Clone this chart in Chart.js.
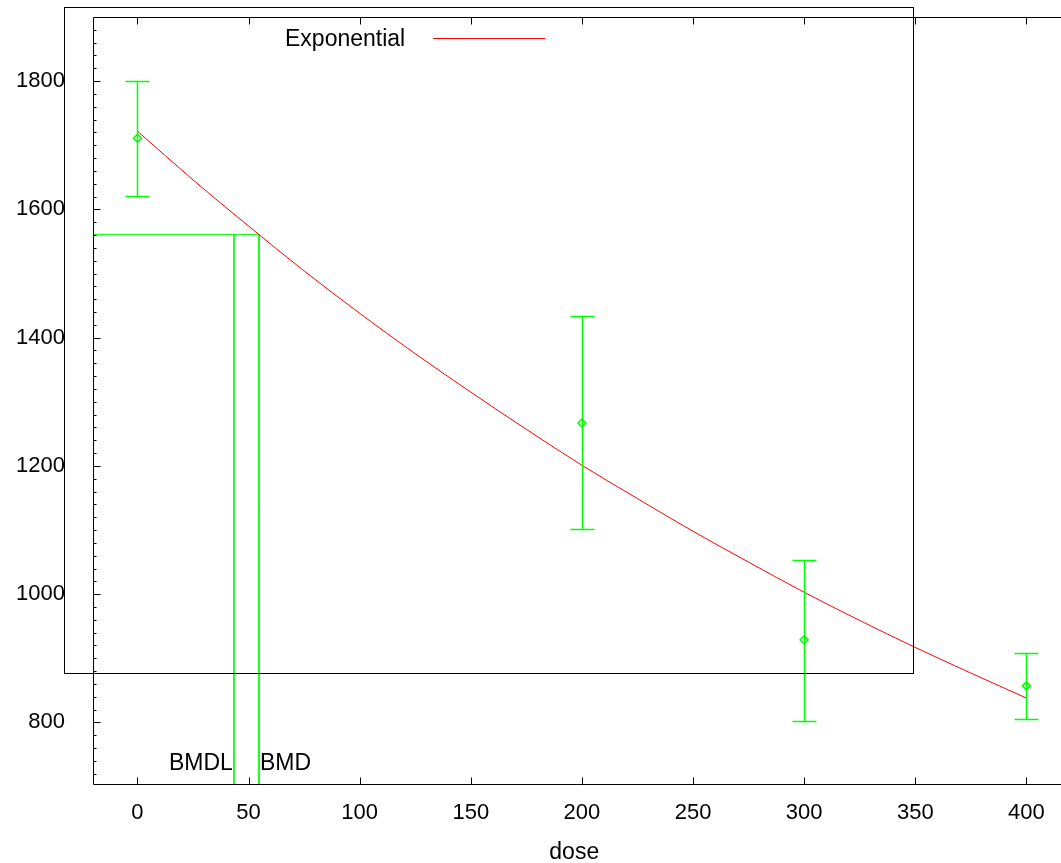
<!DOCTYPE html>
<html>
<head>
<meta charset="utf-8">
<script src="https://cdn.jsdelivr.net/npm/chart.js@4.4.0/dist/chart.umd.min.js"></script>
<style>
  html, body { margin: 0; padding: 0; background: #fff; overflow: hidden; }
  canvas { display: block; }
</style>
</head>
<body>
<canvas id="bmdChart" width="1061" height="863"></canvas>
<script>
// observed data: dose groups, means and error bar ends
const doses = [0, 200, 300, 400];
const means = [1711, 1267, 929, 857];
const lowerBars = [1621, 1102, 803, 806];
const upperBars = [1800, 1434, 1053, 909];

// fitted exponential model
const curveDoses = [0, 25, 50, 75, 100, 125, 150, 175, 200, 225, 250, 275, 300, 325, 350, 375, 400];
const curveValues = [1722, 1646, 1574, 1504, 1438, 1375, 1315, 1257, 1201, 1149, 1098, 1050, 1003, 959, 917, 877, 838];

// benchmark dose lines
const bmrLevel = 1561;
const bmdl = 43.4;
const bmd = 54.7;

const xTicks = [0, 50, 100, 150, 200, 250, 300, 350, 400];
const yTicks = [800, 1000, 1200, 1400, 1600, 1800];

// stray frame the original plot draws (in data units)
const frameX = [-33.05, 349.2];
const frameY = [877, 1916];

// chart area ends ~5px short of the canvas edge, so x max is trimmed to keep the scale
const X_MIN = -20, X_MAX = 413.1, Y_MIN = 704, Y_MAX = 1900;
const FONT = "Liberation Sans, Arial, sans-serif";
const GREEN = "#00ff00";

const axesPlugin = {
    id: "gnuAxes",
    afterDatasetsDraw(chart) {
        const ctx = chart.ctx;
        const xs = chart.scales.x, ys = chart.scales.y;
        const area = chart.chartArea;

        // error bars
        ctx.save();
        ctx.strokeStyle = GREEN;
        ctx.lineWidth = 1.5;
        doses.forEach((d, i) => {
            const px = Math.round(xs.getPixelForValue(d)) + 0.5;
            const top = Math.round(ys.getPixelForValue(upperBars[i])) + 0.5;
            const bot = Math.round(ys.getPixelForValue(lowerBars[i])) + 0.5;
            ctx.beginPath();
            ctx.moveTo(px, top); ctx.lineTo(px, bot);
            ctx.moveTo(px - 12, top); ctx.lineTo(px + 12, top);
            ctx.moveTo(px - 12, bot); ctx.lineTo(px + 12, bot);
            ctx.stroke();
        });
        ctx.restore();

        ctx.save();
        ctx.strokeStyle = "#000";
        ctx.lineWidth = 1;
        const L = Math.round(area.left) + 0.5;
        const T = Math.round(area.top) + 0.5;
        const B = Math.round(area.bottom) + 0.5;
        const R = chart.width;
        ctx.beginPath();
        ctx.moveTo(L, T); ctx.lineTo(L, B);
        ctx.moveTo(L, T); ctx.lineTo(R, T);
        ctx.moveTo(L, B); ctx.lineTo(R, B);
        // x ticks, top and bottom, pointing inward
        xTicks.forEach(v => {
            const px = Math.round(xs.getPixelForValue(v)) + 0.5;
            ctx.moveTo(px, T); ctx.lineTo(px, T + 7);
            ctx.moveTo(px, B); ctx.lineTo(px, B - 7);
        });
        // y ticks, majors every 200, minors every 20
        for (let v = 720; v < Y_MAX; v += 20) {
            const py = Math.round(ys.getPixelForValue(v)) + 0.5;
            const len = (v % 200 === 0) ? 7 : 3;
            ctx.moveTo(L, py); ctx.lineTo(L + len, py);
        }
        ctx.stroke();

        // stray frame box
        const fx0 = Math.round(xs.getPixelForValue(frameX[0])) + 0.5;
        const fx1 = Math.round(xs.getPixelForValue(frameX[1])) + 0.5;
        const fy0 = Math.round(ys.getPixelForValue(frameY[1])) + 0.5;
        const fy1 = Math.round(ys.getPixelForValue(frameY[0])) + 0.5;
        ctx.strokeRect(fx0, fy0, fx1 - fx0, fy1 - fy0);

        // legend
        ctx.fillStyle = "#000";
        ctx.font = "23px " + FONT;
        ctx.textAlign = "left";
        ctx.textBaseline = "middle";
        ctx.fillText(chart.data.datasets[0].label, 285, 40);
        ctx.strokeStyle = "#ff0000";
        ctx.beginPath();
        ctx.moveTo(433, 38.5); ctx.lineTo(545, 38.5);
        ctx.stroke();

        // BMDL / BMD labels
        ctx.fillStyle = "#000";
        const labelY = ys.getPixelForValue(736);
        ctx.textAlign = "right";
        ctx.fillText("BMDL", xs.getPixelForValue(bmdl) - 1, labelY);
        ctx.textAlign = "left";
        ctx.fillText("BMD", xs.getPixelForValue(bmd) + 1, labelY);
        ctx.restore();
    }
};

new Chart(document.getElementById("bmdChart"), {
    type: "scatter",
    data: {
        datasets: [
            {
                label: "Exponential",
                data: curveDoses.map((d, i) => ({ x: d, y: curveValues[i] })),
                showLine: true,
                borderColor: "#ff0000",
                borderWidth: 1,
                pointRadius: 0,
                cubicInterpolationMode: "monotone",
            },
            {
                label: "Data",
                data: doses.map((d, i) => ({ x: d, y: means[i] })),
                showLine: false,
                pointStyle: "rectRot",
                pointRadius: 4,
                borderColor: GREEN,
                borderWidth: 1.5,
                backgroundColor: "rgba(0,0,0,0)",
            },
            {
                label: "BMR",
                data: [{ x: X_MIN, y: bmrLevel }, { x: bmd, y: bmrLevel }],
                showLine: true, pointRadius: 0, borderColor: GREEN, borderWidth: 1,
            },
            {
                label: "BMDL",
                data: [{ x: bmdl, y: bmrLevel }, { x: bmdl, y: Y_MIN }],
                showLine: true, pointRadius: 0, borderColor: GREEN, borderWidth: 1,
            },
            {
                label: "BMD",
                data: [{ x: bmd, y: bmrLevel }, { x: bmd, y: Y_MIN }],
                showLine: true, pointRadius: 0, borderColor: GREEN, borderWidth: 1,
            },
        ],
    },
    options: {
        responsive: false,
        animation: false,
        layout: { padding: { top: 17, right: 0, left: 0, bottom: 0 } },
        plugins: {
            legend: { display: false },
            tooltip: { enabled: false },
        },
        scales: {
            x: {
                type: "linear",
                min: X_MIN,
                max: X_MAX,
                afterBuildTicks: (s) => { s.ticks = xTicks.map(v => ({ value: v })); },
                afterFit: (s) => { s.height = 79; s.paddingLeft = 0; s.paddingRight = 0; },
                grid: { display: false, drawTicks: false },
                border: { display: false },
                ticks: {
                    color: "#000",
                    padding: 16,
                    maxRotation: 0,
                    callback: (v) => String(v),
                    font: { family: FONT, size: 22 },
                },
                title: {
                    display: true,
                    text: "dose",
                    color: "#000",
                    padding: { top: 0, bottom: 0 },
                    font: { family: FONT, size: 23, lineHeight: 0.9 },
                },
            },
            y: {
                type: "linear",
                min: Y_MIN,
                max: Y_MAX,
                afterBuildTicks: (s) => { s.ticks = yTicks.map(v => ({ value: v })); },
                afterFit: (s) => { s.width = 93; s.paddingTop = 0; s.paddingBottom = 0; },
                grid: { display: false, drawTicks: false },
                border: { display: false },
                ticks: {
                    color: "#000",
                    padding: 28,
                    callback: (v) => String(v),
                    font: { family: FONT, size: 22 },
                },
            },
        },
    },
    plugins: [axesPlugin],
});
</script>
</body>
</html>
